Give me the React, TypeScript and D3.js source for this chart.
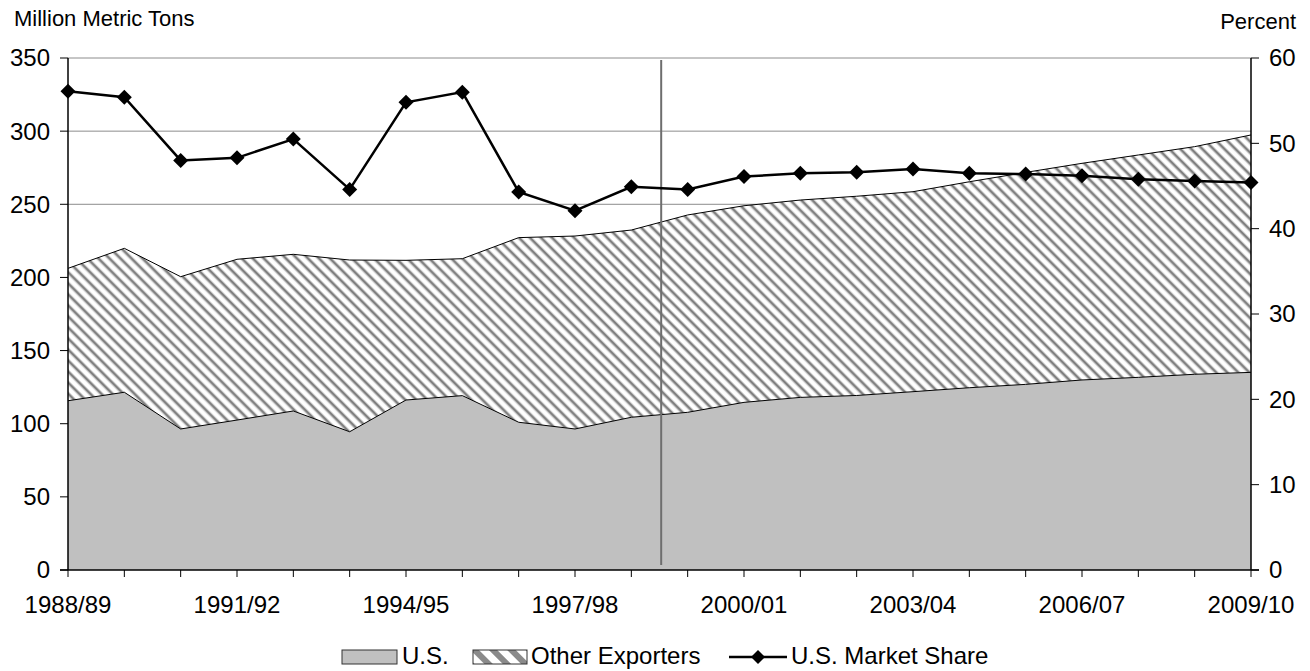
import React from "react";
import * as d3 from "d3";

const years = ["1988/89","1989/90","1990/91","1991/92","1992/93","1993/94","1994/95","1995/96","1996/97","1997/98","1998/99","1999/00","2000/01","2001/02","2002/03","2003/04","2004/05","2005/06","2006/07","2007/08","2008/09","2009/10"];
const usExports = [115.7,121.5,96.4,102.5,108.7,94.5,116.2,119.2,101.0,96.4,104.4,107.8,114.6,118.0,119.3,121.9,124.6,126.9,129.9,131.7,133.8,135.1];
const otherExports = [90.5,98.4,104.1,109.9,107.1,117.4,95.5,93.6,126.2,131.9,128.0,134.9,134.4,134.9,136.2,136.7,140.8,144.9,148.1,152.0,155.6,162.3];
const usShare = [56.1,55.4,48.0,48.3,50.5,44.6,54.8,56.0,44.3,42.1,44.9,44.6,46.1,46.5,46.6,47.0,46.5,46.4,46.2,45.8,45.6,45.4];
const leftTicks = [0,50,100,150,200,250,300,350];
const rightTicks = [0,10,20,30,40,50,60];
const labelEvery = 3;
const projectionStart = 10.53;
const legendItems = ["U.S.", "Other Exporters", "U.S. Market Share"];

const W = 1310, H = 671;
const L = 68, R = 1251, T = 58, B = 570;
const FONT = "'Liberation Sans', Arial, sans-serif";

export default function App() {
  const x = d3.scaleLinear().domain([0, years.length - 1]).range([L, R]);
  const yL = d3.scaleLinear().domain([0, 350]).range([B, T]);
  const yR = d3.scaleLinear().domain([0, 60]).range([B, T]);
  const idx = years.map((_, i) => i);
  const totals = idx.map(i => usExports[i] + otherExports[i]);

  const usArea = d3.area<number>().x(i => x(i)).y0(yL(0)).y1(i => yL(usExports[i]))(idx) || "";
  const otherArea = d3.area<number>().x(i => x(i)).y0(i => yL(usExports[i])).y1(i => yL(totals[i]))(idx) || "";
  const usTop = d3.line<number>().x(i => x(i)).y(i => yL(usExports[i]))(idx) || "";
  const totTop = d3.line<number>().x(i => x(i)).y(i => yL(totals[i]))(idx) || "";
  const shareLine = d3.line<number>().x(i => x(i)).y(i => yR(usShare[i]))(idx) || "";
  const dm = 7.5;
  const diamond = (cx: number, cy: number, s: number) => `M${cx},${cy - s}L${cx + s},${cy}L${cx},${cy + s}L${cx - s},${cy}Z`;

  return (
    <svg width={W} height={H} style={{ position: "absolute", left: 0, top: 0, background: "#fff" }} fontFamily={FONT}>
      <defs>
        <pattern id="hatch" patternUnits="userSpaceOnUse" width={7.8} height={7.8} patternTransform="rotate(-45)">
          <rect width={7.8} height={7.8} fill="#fff" />
          <rect x={1.8} width={0.9} height={7.8} fill="#cfcfcf" />
          <rect x={2.7} width={2.2} height={7.8} fill="#808080" />
          <rect x={4.9} width={0.9} height={7.8} fill="#cfcfcf" />
        </pattern>
        <pattern id="hatchLeg" patternUnits="userSpaceOnUse" width={13} height={13} patternTransform="rotate(-45)">
          <rect width={13} height={13} fill="#fff" />
          <rect x={3} width={6} height={13} fill="#8a8a8a" />
        </pattern>
      </defs>

      {/* gridlines */}
      {leftTicks.filter(t => t > 0).map(t => (
        <line key={"g" + t} x1={L} x2={R} y1={yL(t)} y2={yL(t)} stroke="#8c8c8c" strokeWidth={1} />
      ))}

      {/* areas */}
      <path d={otherArea} fill="url(#hatch)" />
      <path d={usArea} fill="#c0c0c0" />
      <path d={totTop} fill="none" stroke="#000" strokeWidth={1} />
      <path d={usTop} fill="none" stroke="#000" strokeWidth={1} />

      {/* projection divider */}
      <line x1={x(projectionStart)} x2={x(projectionStart)} y1={T + 2} y2={B - 5} stroke="#6e6e6e" strokeWidth={2} />

      {/* axes */}
      <line x1={L} x2={L} y1={T} y2={B} stroke="#000" strokeWidth={1.5} />
      <line x1={R} x2={R} y1={T} y2={B} stroke="#000" strokeWidth={1.5} />
      <line x1={L - 8} x2={R + 8} y1={B} y2={B} stroke="#000" strokeWidth={1.5} />
      {leftTicks.map(t => (
        <g key={"l" + t}>
          <line x1={L - 8} x2={L} y1={yL(t)} y2={yL(t)} stroke="#000" strokeWidth={1} />
          <text x={50} y={yL(t)} dy="0.35em" textAnchor="end" fontSize={24}>{t}</text>
        </g>
      ))}
      {rightTicks.map(t => (
        <g key={"r" + t}>
          <line x1={R} x2={R + 8} y1={yR(t)} y2={yR(t)} stroke="#000" strokeWidth={1} />
          <text x={1269} y={yR(t)} dy="0.35em" textAnchor="start" fontSize={24}>{t}</text>
        </g>
      ))}
      {years.map((yr, i) => (
        <g key={"x" + i}>
          <line x1={x(i)} x2={x(i)} y1={B} y2={B + 7} stroke="#000" strokeWidth={1} />
          {i % labelEvery === 0 && (
            <text x={x(i)} y={613} textAnchor="middle" fontSize={24}>{yr}</text>
          )}
        </g>
      ))}

      {/* share line */}
      <path d={shareLine} fill="none" stroke="#000" strokeWidth={2.5} />
      {idx.map(i => (
        <path key={"d" + i} d={diamond(x(i), yR(usShare[i]), dm)} fill="#000" />
      ))}

      {/* axis titles */}
      <text x={14} y={26} fontSize={22}>Million Metric Tons</text>
      <text x={1296} y={29} fontSize={22} textAnchor="end">Percent</text>

      {/* legend */}
      <rect x={342} y={650} width={55} height={14} fill="#c0c0c0" stroke="#333" strokeWidth={1} />
      <text x={402} y={664} fontSize={24}>{legendItems[0]}</text>
      <rect x={473} y={650} width={54} height={14} fill="url(#hatchLeg)" stroke="#333" strokeWidth={1} />
      <text x={531} y={664} fontSize={24}>{legendItems[1]}</text>
      <line x1={729} x2={787} y1={657} y2={657} stroke="#000" strokeWidth={2.5} />
      <path d={diamond(758, 657, 7)} fill="#000" />
      <text x={791} y={664} fontSize={24}>{legendItems[2]}</text>
    </svg>
  );
}
